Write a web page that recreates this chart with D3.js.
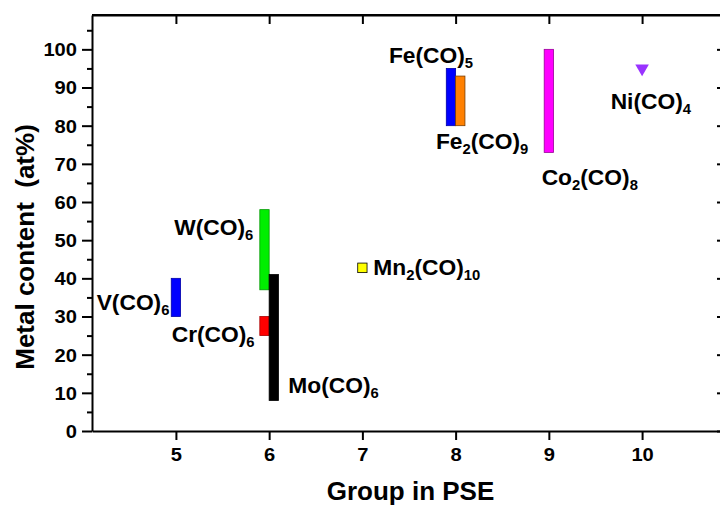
<!DOCTYPE html>
<html>
<head>
<meta charset="utf-8">
<script src="https://cdn.jsdelivr.net/npm/d3@7"></script>
<style>
  html, body { margin: 0; padding: 0; background: #fff; }
  svg { display: block; font-family: "Liberation Sans", Arial, sans-serif; font-weight: bold; }
</style>
</head>
<body>
<svg id="chart" width="720" height="507"></svg>
<script>
// ---- data ----
const compounds = ["V(CO)6", "W(CO)6", "Cr(CO)6", "Mo(CO)6", "Mn2(CO)10", "Fe(CO)5", "Fe2(CO)9", "Co2(CO)8"];
const groups    = [5, 6, 6, 6, 7, 8, 8, 9];
const sides     = ["C", "L", "L", "R", "C", "L", "R", "C"];   // bar placement relative to group
const lowVals   = [30, 37, 25, 8, 41.5, 80, 80, 73];
const highVals  = [40, 58, 30, 41, 44, 95, 93, 100];
const barColors = ["#0000ff", "#00ee00", "#ff0000", "#000000", "#ffff00", "#0000ff", "#ff8000", "#ff00ff"];
const barStroke = ["#0000aa", "#009900", "#aa0000", "#000000", "#000000", "#0000aa", "#7a3d00", "#990099"];

const pointNames  = ["Ni(CO)4"];
const pointGroups = [10];
const pointVals   = [95];
const pointColors = ["#9933ff"];

// label annotations: pieces [text, isSubscript], anchor in data units
const labelParts = [
  [["Fe(CO)", false], ["5", true]],
  [["Fe", false], ["2", true], ["(CO)", false], ["9", true]],
  [["Co", false], ["2", true], ["(CO)", false], ["8", true]],
  [["Ni(CO)", false], ["4", true]],
  [["Mn", false], ["2", true], ["(CO)", false], ["10", true]],
  [["V(CO)", false], ["6", true]],
  [["Cr(CO)", false], ["6", true]],
  [["W(CO)", false], ["6", true]],
  [["Mo(CO)", false], ["6", true]]
];
const labelX = [7.285, 7.789, 8.923, 9.663, 7.117, 4.150, 4.955, 4.982, 6.205];
const labelY = [96.4, 73.9, 64.4, 84.4, 40.9, 31.7, 23.4, 51.3, 10.0];

const xTicks = [5, 6, 7, 8, 9, 10];
const yTicks = [0, 10, 20, 30, 40, 50, 60, 70, 80, 90, 100];
const yMinor = [5, 15, 25, 35, 45, 55, 65, 75, 85, 95, 105];
const xTitle = "Group in PSE";
const yTitle = "Metal content  (at%)";

// ---- layout ----
const svg = d3.select("#chart");
const mLeft = 92, mRight = 726, mTop = 15, mBottom = 431;
const x = d3.scaleLinear().domain([4.1, 10.9]).range([mLeft, mRight]);
const y = d3.scaleLinear().domain([0, 109]).range([mBottom, mTop]);
const barW = 0.1;
const sideOffset = { L: -barW, C: -barW / 2, R: 0 };

// bars
svg.append("g").selectAll("rect")
  .data(compounds.map((c, i) => i))
  .join("rect")
  .attr("x", i => x(groups[i] + sideOffset[sides[i]]))
  .attr("width", i => x(groups[i] + sideOffset[sides[i]] + barW) - x(groups[i] + sideOffset[sides[i]]))
  .attr("y", i => y(highVals[i]))
  .attr("height", i => y(lowVals[i]) - y(highVals[i]))
  .attr("fill", i => barColors[i])
  .attr("stroke", i => barStroke[i])
  .attr("stroke-width", 0.8);

// points (down triangles)
svg.append("g").selectAll("path")
  .data(pointNames.map((n, i) => i))
  .join("path")
  .attr("d", d3.symbol().type(d3.symbolTriangle).size(80))
  .attr("transform", i => `translate(${x(pointGroups[i])},${y(pointVals[i])}) rotate(180)`)
  .attr("fill", i => pointColors[i]);

// axes
const axisStyle = g => {
  g.select(".domain").attr("stroke", "#000").attr("stroke-width", 2);
  g.selectAll(".tick line").attr("stroke", "#000").attr("stroke-width", 2);
  g.selectAll(".tick text").attr("fill", "#000").attr("font-size", 18).attr("font-weight", "bold")
    .attr("font-family", '"Liberation Sans", Arial, sans-serif')
    .attr("lengthAdjust", "spacingAndGlyphs")
    .attr("textLength", function() { return this.textContent.length * 11.2; });
};

// bottom
svg.append("g").attr("transform", `translate(0,${mBottom})`)
  .call(d3.axisBottom(x).tickValues(xTicks).tickSize(9).tickSizeOuter(0).tickPadding(4).tickFormat(d3.format("d")))
  .call(axisStyle)
  .call(g => g.selectAll(".tick text").attr("dy", "0.95em"));
// top (inward ticks)
svg.append("g").attr("transform", `translate(0,${mTop})`)
  .call(d3.axisBottom(x).tickValues(xTicks).tickSize(9).tickSizeOuter(0).tickFormat(""))
  .call(axisStyle);
// left
svg.append("g").attr("transform", `translate(${mLeft},0)`)
  .call(d3.axisLeft(y).tickValues(yTicks).tickSize(10).tickSizeOuter(0).tickPadding(5))
  .call(axisStyle)
  .call(g => g.selectAll(".tick text").attr("dy", "0.36em"));
svg.append("g").attr("transform", `translate(${mLeft},0)`)
  .call(d3.axisLeft(y).tickValues(yMinor).tickSize(5).tickSizeOuter(0).tickFormat(""))
  .call(axisStyle)
  .call(g => g.select(".domain").remove());
// right (inward ticks)
svg.append("g").attr("transform", `translate(${mRight},0)`)
  .call(d3.axisLeft(y).tickValues(yTicks).tickSize(9).tickSizeOuter(0).tickFormat(""))
  .call(axisStyle);

// frame line (top)
svg.append("line").attr("x1", mLeft).attr("x2", mRight).attr("y1", mTop).attr("y2", mTop)
  .attr("stroke", "#000").attr("stroke-width", 2);

// labels
const lab = svg.append("g");
labelParts.forEach((parts, i) => {
  const t = lab.append("text")
    .attr("transform", `translate(${x(labelX[i])},${y(labelY[i])}) scale(1.06,1)`)
    .attr("font-size", 21.5).attr("fill", "#000");
  parts.forEach(([s, sub], j) => {
    const ts = t.append("tspan").text(s);
    if (sub) ts.attr("font-size", 14).attr("dy", 5);
    else if (j > 0) ts.attr("dy", -5);
  });
});

// axis titles
svg.append("text")
  .attr("x", 410.5).attr("y", 500)
  .attr("text-anchor", "middle").attr("font-size", 26).attr("fill", "#000")
  .text(xTitle);
svg.append("text")
  .attr("transform", "translate(34,247) rotate(-90)")
  .attr("text-anchor", "middle").attr("font-size", 26).attr("fill", "#000")
  .style("white-space", "pre")
  .text(yTitle);
</script>
</body>
</html>
